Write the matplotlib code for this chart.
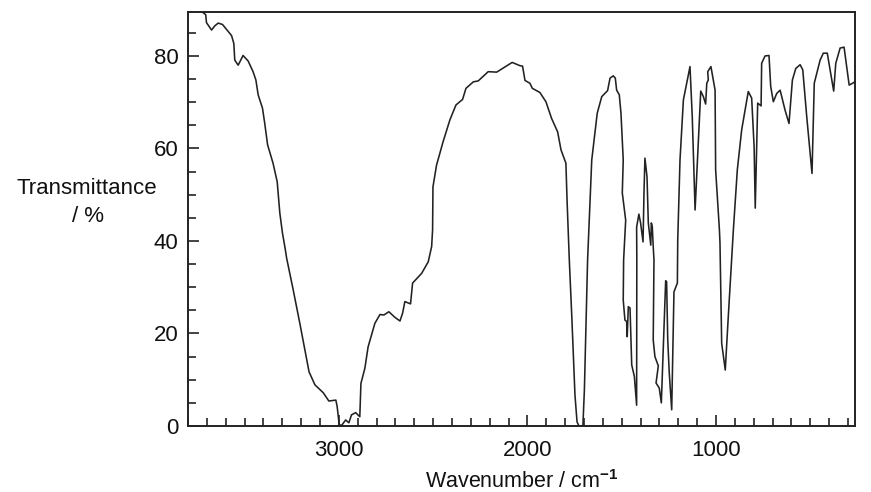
import matplotlib
matplotlib.use("Agg")
import matplotlib.pyplot as plt
from matplotlib.ticker import MultipleLocator

plt.rcParams["font.family"] = ["Liberation Sans", "DejaVu Sans"]
plt.rcParams["mathtext.fontset"] = "custom"
plt.rcParams["mathtext.rm"] = "Liberation Sans"
plt.rcParams["mathtext.bf"] = "Liberation Sans:bold"

# IR spectrum. Order follows the trace, a few x values step back.
wavenumber = [
    3800, 3730, 3721, 3706, 3702, 3675, 3658, 3640, 3617, 3587, 3569, 3557, 3552, 3534, 3508,
    3481, 3455, 3440, 3428, 3405, 3393, 3378, 3349, 3327, 3313, 3299, 3285, 3277, 3242, 3207,
    3180, 3158, 3127, 3083, 3053, 3016, 3009, 2998, 2984, 2964, 2947, 2933, 2911, 2889, 2883,
    2862, 2845, 2809, 2782, 2761, 2735, 2703, 2676, 2662, 2650, 2620, 2609, 2561, 2526, 2508,
    2503, 2501, 2482, 2447, 2411, 2379, 2344, 2326, 2287, 2261, 2208, 2163, 2081, 2040, 2026,
    2013, 1987, 1974, 1934, 1902, 1872, 1840, 1822, 1796, 1790, 1778, 1764, 1748, 1737, 1727,
    1706, 1698, 1681, 1659, 1630, 1606, 1575, 1562, 1545, 1534, 1527, 1513, 1504, 1492, 1497,
    1479, 1490, 1492, 1483, 1474, 1471, 1465, 1456, 1447, 1433, 1421, 1420, 1421, 1409, 1400,
    1387, 1382, 1377, 1366, 1359, 1346, 1343, 1338, 1333, 1329, 1333, 1324, 1306, 1318, 1301,
    1290, 1267, 1262, 1256, 1248, 1235, 1223, 1205, 1203, 1191, 1173, 1138, 1126, 1111, 1081,
    1067, 1055, 1049, 1041, 1044, 1027, 1005, 1002, 982, 979, 970, 951, 935, 908, 887,
    864, 829, 811, 798, 792, 779, 761, 758, 740, 719, 710, 696, 678, 660, 634,
    613, 595, 577, 554, 540, 519, 491, 479, 448, 431, 410, 376, 365, 342, 321,
    294, 271, 263,
]
transmittance = [
    92, 91, 89.4, 88.9, 87.2, 85.6, 86.5, 87.1, 86.8, 85.3, 84.4, 82.7, 79.1, 78.0, 80.1,
    78.9, 76.6, 74.8, 71.6, 68.7, 65.4, 60.8, 56.8, 52.8, 46.0, 41.7, 38.4, 36.3, 29.4, 22.2,
    16.4, 11.7, 8.9, 7.2, 5.4, 5.6, 4.2, 0.2, 0.2, 1.3, 0.7, 2.4, 2.9, 2.0, 9.2,
    12.5, 17.1, 22.2, 24.1, 24.0, 24.7, 23.5, 22.7, 24.4, 26.9, 26.4, 30.9, 33.0, 35.5, 38.8,
    42.4, 51.7, 56.4, 61.5, 66.2, 69.4, 70.6, 73.0, 74.4, 74.6, 76.6, 76.5, 78.6, 77.9, 77.8,
    74.7, 74.1, 73.0, 72.1, 70.1, 66.5, 63.6, 59.7, 56.8, 48.9, 35.9, 22.9, 6.7, 0.9, 0,
    0, 7.8, 35.9, 57.5, 67.6, 71.2, 72.5, 75.2, 75.7, 75.2, 72.6, 71.6, 67.6, 57.5, 50.4,
    44.5, 35.9, 27.2, 22.9, 22.6, 19.3, 25.8, 25.5, 13.2, 10.7, 4.5, 36, 43, 45.8, 43.9,
    39.8, 50.4, 57.9, 53.9, 43.9, 39.1, 43.9, 43.1, 38.8, 35.9, 18.6, 15.0, 13.0, 9.3, 8.2,
    5.0, 31.4, 31.2, 18.6, 11.5, 3.5, 29.0, 30.9, 40.2, 57.5, 70.5, 77.7, 66.9, 46.7, 72.4,
    71.2, 69.6, 74.1, 74.8, 76.6, 77.7, 72.6, 55.4, 42.4, 39.6, 17.9, 12.1, 23.6, 42.4, 55.4,
    64.0, 72.3, 70.9, 60.4, 47.1, 69.8, 69.2, 78.4, 80.0, 80.1, 73.4, 70.1, 71.9, 72.6, 68.3,
    65.4, 74.8, 77.3, 78.1, 77.0, 66.9, 54.6, 74.1, 79.1, 80.6, 80.6, 72.4, 78.4, 81.7, 81.9,
    73.7, 74.2, 74.5,
]

fig = plt.figure(figsize=(8.71, 4.92), dpi=100)
ax = fig.add_axes([188 / 871, 1 - 426 / 492, (855 - 188) / 871, (426 - 12) / 492])
ax.plot(wavenumber, transmittance, color="#222222", linewidth=1.15, solid_joinstyle="round")

ax.set_xlim(3800, 263)
ax.set_ylim(0, 89.5)
ax.xaxis.set_major_locator(MultipleLocator(1000))
ax.xaxis.set_minor_locator(MultipleLocator(100))
ax.yaxis.set_major_locator(MultipleLocator(20))
ax.yaxis.set_minor_locator(MultipleLocator(5))
ax.tick_params(which="major", direction="in", length=8, width=1.1, labelsize=16, colors="#111111")
ax.tick_params(axis="x", which="major", pad=10)
ax.tick_params(axis="y", which="major", pad=7)
ax.tick_params(which="minor", direction="in", length=5.5, width=1.1, colors="#111111")
for spine in ax.spines.values():
    spine.set_linewidth(1.4)
    spine.set_color("#222222")

fig.text(87 / 871, 1 - 188 / 492, "Transmittance", ha="center", va="center", fontsize=16, color="#111111")
fig.text(88 / 871, 1 - 216 / 492, "/ %", ha="center", va="center", fontsize=16, color="#111111")
# baseline anchored so the label stays inside the canvas
fig.text(522 / 871, 1 - 488 / 492, "Wavenumber / cm$^{\\mathbf{-1}}$", ha="center", va="baseline",
         fontsize=15.5, color="#111111")

fig.savefig("out.png", dpi=100)
